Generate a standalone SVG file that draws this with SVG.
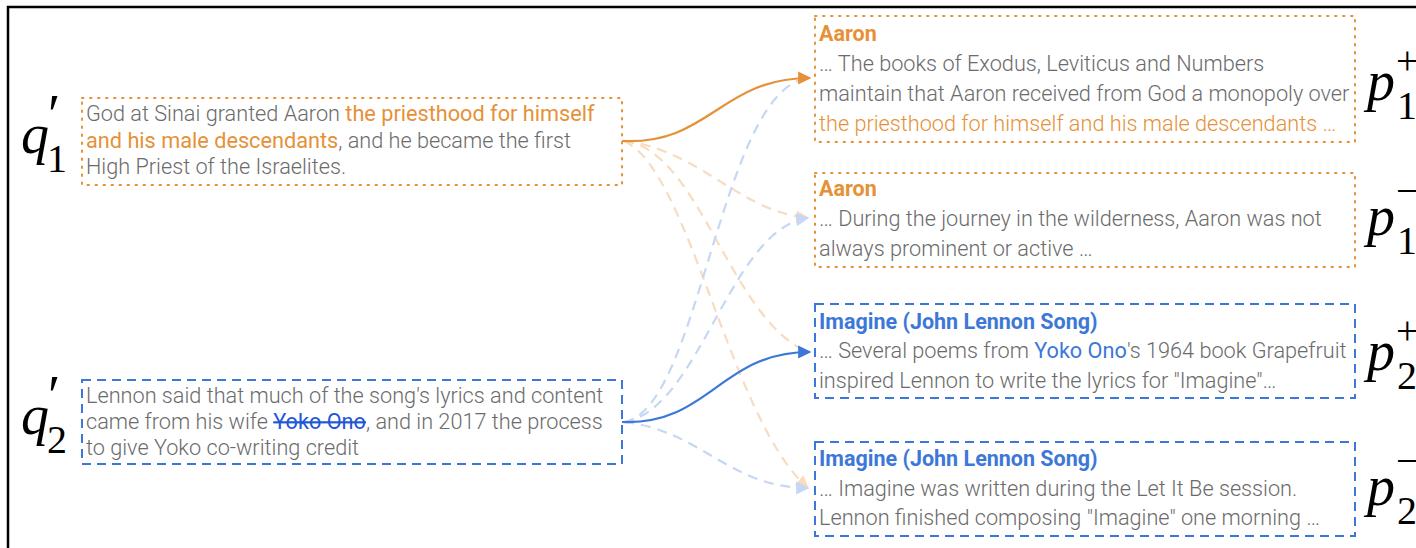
<svg xmlns="http://www.w3.org/2000/svg" width="1416" height="548" viewBox="0 0 1416 548">
  <defs>
    <style>
      .body { font-family: Roboto, "Liberation Sans", sans-serif; font-weight: 300; font-size: 21.7px; fill: #6b6b6b; }
      .title { font-family: Roboto, "Liberation Sans", sans-serif; font-weight: 700; font-size: 21.5px; }
      .or { fill: #e69138; }
      .bl { fill: #3c78d8; }
      .math { font-family: "Liberation Serif", "DejaVu Serif", serif; fill: #000; }
      .mi { font-style: italic; }
      .box-or { fill: none; stroke: #e69138; stroke-width: 2; stroke-dasharray: 1.5 6.5; stroke-linecap: round; }
      .box-bl { fill: none; stroke: #3c78d8; stroke-width: 2; stroke-dasharray: 9 6; }
      .edge { fill: none; stroke-width: 2.2; }
      .solid-or { stroke: #e69138; }
      .solid-bl { stroke: #3c78d8; }
      .dash-or { stroke: #f8dcc0; stroke-dasharray: 10 7; }
      .dash-bl { stroke: #c6d7f4; stroke-dasharray: 10 7; }
    </style>
    <marker id="arr-or" viewBox="0 0 10 10" refX="9" refY="5" markerWidth="6" markerHeight="6" markerUnits="strokeWidth" orient="auto">
      <path d="M0,0 L10,5 L0,10 z" fill="#e69138"/>
    </marker>
    <marker id="arr-bl" viewBox="0 0 10 10" refX="9" refY="5" markerWidth="6" markerHeight="6" markerUnits="strokeWidth" orient="auto">
      <path d="M0,0 L10,5 L0,10 z" fill="#3c78d8"/>
    </marker>
    <marker id="arr-lor" viewBox="0 0 10 10" refX="9" refY="5" markerWidth="6" markerHeight="6" markerUnits="strokeWidth" orient="auto">
      <path d="M0,0 L10,5 L0,10 z" fill="#f8dcc0"/>
    </marker>
    <marker id="arr-lbl" viewBox="0 0 10 10" refX="9" refY="5" markerWidth="6" markerHeight="6" markerUnits="strokeWidth" orient="auto">
      <path d="M0,0 L10,5 L0,10 z" fill="#c6d7f4"/>
    </marker>
  </defs>

  <rect width="1416" height="548" fill="#ffffff"/>
  <!-- outer frame -->
  <rect x="8" y="7" width="1430" height="560" fill="none" stroke="#000" stroke-width="2.5"/>

  <!-- connectors -->
  <g id="connectors">
    <path class="edge dash-or" d="M624,141 C700,150 740,212 808,218" marker-end="url(#arr-lor)"/>
    <path class="edge dash-or" d="M624,141 C700,150 730,320 808,352"/>
    <path class="edge dash-or" d="M624,141 C690,170 730,420 808,488" marker-end="url(#arr-lor)"/>
    <path class="edge dash-bl" d="M624,422 C700,410 720,90 808,78"/>
    <path class="edge dash-bl" d="M624,422 C700,410 730,228 808,218" marker-end="url(#arr-lbl)"/>
    <path class="edge dash-bl" d="M624,422 C700,430 730,488 808,488" marker-end="url(#arr-lbl)"/>
    <path class="edge solid-or" d="M622,141 C710,145 720,78 810,78" marker-end="url(#arr-or)"/>
    <path class="edge solid-bl" d="M622,422 C710,425 720,352 810,352" marker-end="url(#arr-bl)"/>
  </g>

  <!-- query q'1 -->
  <g id="q1">
    <rect class="box-or" x="82" y="98" width="540" height="87"/>
    <text class="body" x="86" y="121">God at Sinai granted Aaron <tspan class="or" font-weight="400">the priesthood for himself</tspan></text>
    <text class="body" x="86" y="148"><tspan class="or" font-weight="400">and his male descendants</tspan>, and he became the first</text>
    <text class="body" x="86" y="174">High Priest of the Israelites.</text>
    <text class="math"><tspan class="mi" x="21" y="153" font-size="56">q</tspan><tspan x="48" y="134" font-size="56">′</tspan><tspan x="47" y="172" font-size="40">1</tspan></text>
  </g>

  <!-- query q'2 -->
  <g id="q2">
    <rect class="box-bl" x="82" y="380" width="540" height="84"/>
    <text class="body" x="86" y="403">Lennon said that much of the song's lyrics and content</text>
    <text class="body" x="86" y="429">came from his wife <tspan fill="#1f57d6" font-weight="400" text-decoration="line-through">Yoko Ono</tspan>, and in 2017 the process</text>
    <text class="body" x="86" y="455">to give Yoko co-writing credit</text>
    <text class="math"><tspan class="mi" x="21" y="434" font-size="56">q</tspan><tspan x="48" y="415" font-size="56">′</tspan><tspan x="47" y="453" font-size="40">2</tspan></text>
  </g>

  <!-- passage p1+ -->
  <g id="p1pos">
    <rect class="box-or" x="815" y="16" width="540" height="126"/>
    <text class="title or" x="819" y="41">Aaron</text>
    <text class="body" x="819" y="71">… The books of Exodus, Leviticus and Numbers</text>
    <text class="body" x="819" y="101">maintain that Aaron received from God a monopoly over</text>
    <text class="body or" x="819" y="131" font-weight="400">the priesthood for himself and his male descendants <tspan font-weight="300">…</tspan></text>
    <text class="math"><tspan class="mi" x="1367" y="100" font-size="56">p</tspan><tspan x="1396" y="74" font-size="40">+</tspan><tspan x="1397" y="119" font-size="40">1</tspan></text>
  </g>

  <!-- passage p1- -->
  <g id="p1neg">
    <rect class="box-or" x="815" y="173" width="540" height="94"/>
    <text class="title or" x="819" y="196">Aaron</text>
    <text class="body" x="819" y="226">… During the journey in the wilderness, Aaron was not</text>
    <text class="body" x="819" y="256">always prominent or active …</text>
    <text class="math"><tspan class="mi" x="1367" y="235" font-size="56">p</tspan><tspan x="1396" y="204" font-size="40">−</tspan><tspan x="1397" y="254" font-size="40">1</tspan></text>
  </g>

  <!-- passage p2+ -->
  <g id="p2pos">
    <rect class="box-bl" x="815" y="304" width="540" height="94"/>
    <text class="title bl" x="819" y="329">Imagine (John Lennon Song)</text>
    <text class="body" x="819" y="358">… Several poems from <tspan class="bl" font-weight="400">Yoko Ono</tspan>'s 1964 book Grapefruit</text>
    <text class="body" x="819" y="388">inspired Lennon to write the lyrics for "Imagine"…</text>
    <text class="math"><tspan class="mi" x="1367" y="370" font-size="56">p</tspan><tspan x="1396" y="344" font-size="40">+</tspan><tspan x="1397" y="389" font-size="40">2</tspan></text>
  </g>

  <!-- passage p2- -->
  <g id="p2neg">
    <rect class="box-bl" x="815" y="442" width="540" height="94"/>
    <text class="title bl" x="819" y="466">Imagine (John Lennon Song)</text>
    <text class="body" x="819" y="496">… Imagine was written during the Let It Be session.</text>
    <text class="body" x="819" y="525">Lennon finished composing "Imagine" one morning …</text>
    <text class="math"><tspan class="mi" x="1367" y="505" font-size="56">p</tspan><tspan x="1396" y="474" font-size="40">−</tspan><tspan x="1397" y="524" font-size="40">2</tspan></text>
  </g>
</svg>
